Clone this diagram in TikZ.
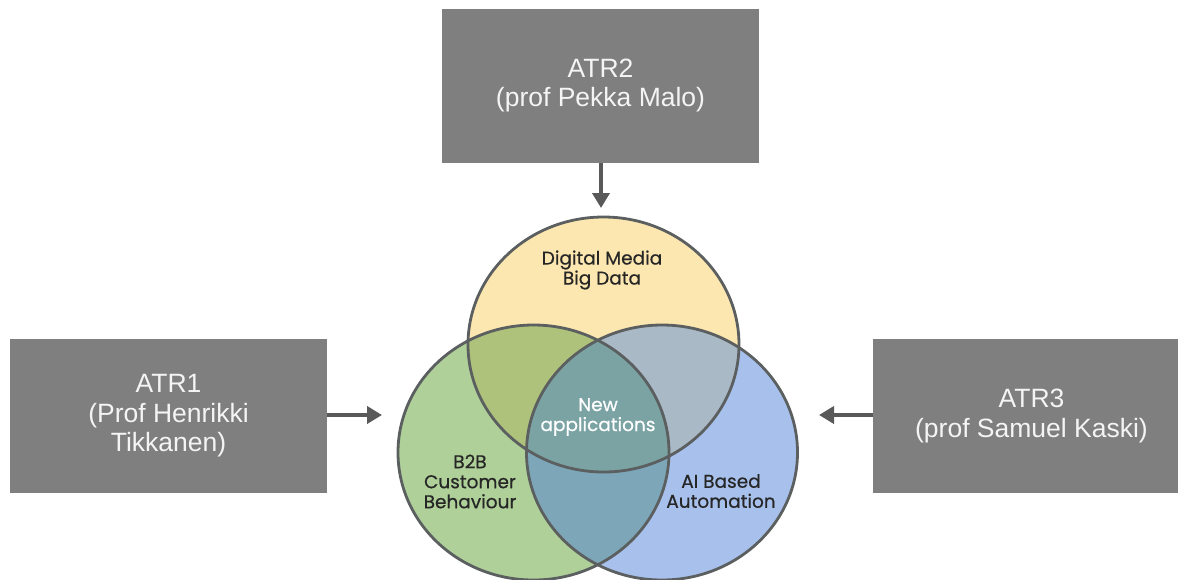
\documentclass[tikz,border=0pt]{standalone}
\usepackage{fontspec}
\setmainfont{Liberation Sans}
\newfontfamily\vennfont[FakeBold=0.5]{Poppins}
\usetikzlibrary{arrows.meta,shapes.geometric}
\definecolor{boxgray}{HTML}{7F7F7F}
\definecolor{boxtext}{HTML}{F4F4F4}
\definecolor{arrowgray}{HTML}{595959}
\definecolor{edgegray}{HTML}{5C5F60}
\definecolor{cyellow}{HTML}{FCE7B0}
\definecolor{cgreen}{HTML}{AFD099}
\definecolor{cblue}{HTML}{A8C1EC}
\definecolor{cyg}{HTML}{AEC27B}
\definecolor{cyb}{HTML}{A9B9C6}
\definecolor{cgb}{HTML}{7DA7B9}
\definecolor{call}{HTML}{7BA3A4}
\definecolor{venntext}{HTML}{262626}
\tikzset{
  atrbox/.style={fill=boxgray, text=boxtext, minimum width=317pt, minimum height=154pt,
    inner sep=0pt, align=center, font=\fontsize{26.5}{29.5}\selectfont},
  feed/.style={draw=arrowgray, line width=4.5pt, -{Triangle[length=15pt,width=17pt]}},
  venn/.style={draw=edgegray, line width=2.8pt, ellipse, minimum width=271pt, minimum height=255pt, inner sep=0pt},
  vlabel/.style={text=venntext, align=center, font=\vennfont\fontsize{18.5}{20}\selectfont, inner sep=0pt},
}
\begin{document}
\begin{tikzpicture}[x=1pt,y=-1pt]
\useasboundingbox (0,0) rectangle (1178,579);
% region fills
\def\et{(603.5,344.5) ellipse [x radius=135.5pt, y radius=127.5pt]}
\def\el{(533.5,452.5) ellipse [x radius=135.5pt, y radius=127.5pt]}
\def\er{(662,452.5) ellipse [x radius=135.5pt, y radius=127.5pt]}
\fill[cyellow] \et;
\fill[cgreen] \el;
\fill[cblue] \er;
\begin{scope}\clip \et; \fill[cyg] \el; \end{scope}
\begin{scope}\clip \et; \fill[cyb] \er; \end{scope}
\begin{scope}\clip \el; \fill[cgb] \er; \end{scope}
\begin{scope}\clip \et; \clip \el; \fill[call] \er; \end{scope}
% outlines
\node[venn] (cTop) at (603.5,344.5) {};
\node[venn] (cB2B) at (533.5,452.5) {};
\node[venn] (cAI) at (662,452.5) {};
% labels
\node[vlabel] (lTop) at (602,270) {Digital Media\\Big Data};
\node[vlabel, text=white] (lNew) at (598,417) {New\\applications};
\node[vlabel] (lB2B) at (470,481.5) {B2B\\Customer\\Behaviour};
\node[vlabel] (lAI) at (721,491) {AI Based\\Automation};
% boxes
\node[atrbox] (atr2) at (600.5,85.5) {ATR2\\(prof Pekka Malo)};
\node[atrbox] (atr1) at (168.5,416) {ATR1\\(Prof Henrikki\\Tikkanen)};
\node[atrbox] (atr3) at (1031.5,416) {ATR3\\(prof Samuel Kaski)};
% arrows
\coordinate (t2) at (601,208);
\coordinate (t1) at (382,415);
\coordinate (t3) at (819,415);
\draw[feed] (atr2.south -| t2) -- (t2);
\draw[feed] (atr1.east |- t1) -- (t1);
\draw[feed] (atr3.west |- t3) -- (t3);
\end{tikzpicture}
\end{document}
